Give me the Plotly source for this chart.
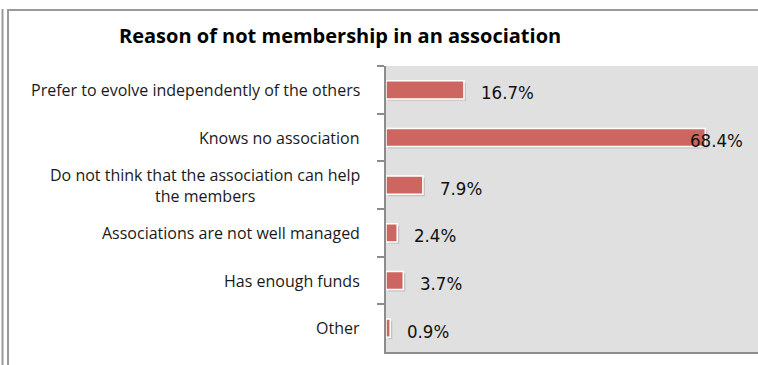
import plotly.graph_objects as go

# Survey results: reasons given for not joining an association
categories = [
    "Prefer to evolve independently of the others",
    "Knows no association",
    "Do not think that the association can help<br>the members",
    "Associations are not well managed",
    "Has enough funds",
    "Other",
]
shares = [16.7, 68.4, 7.9, 2.4, 3.7, 0.9]
title_text = "Reason of not membership in an association"

W, H = 758, 365
PLOT_L, PLOT_R, PLOT_T, PLOT_B = 386, 758, 66, 352
TEXT_FONT = "'Open Sans', sans-serif"
NUM_FONT = "'DejaVu Sans Condensed', Lato, sans-serif"
BAR_COLOR = "#cd6660"


def px_x(p):
    return (p - PLOT_L) / (PLOT_R - PLOT_L)


def px_y(p):
    return (PLOT_B - p) / (PLOT_B - PLOT_T)


fig = go.Figure()

# soft drop shadow behind each bar
fig.add_trace(go.Bar(
    y=categories, x=shares, base=0.45, orientation="h",
    width=0.38, offset=-0.15,
    marker=dict(color="rgba(0,0,0,0.13)", line=dict(width=0)),
    hoverinfo="skip", showlegend=False,
))
fig.add_trace(go.Bar(
    y=categories, x=shares, orientation="h",
    width=0.38, offset=-0.19,
    marker=dict(color=BAR_COLOR, line=dict(color="white", width=1.5)),
    showlegend=False,
))

annotations = []
for cat, v in zip(categories, shares):
    # category labels, right-aligned next to the axis, lines centered
    annotations.append(dict(
        x=px_x(362), xref="paper", y=cat, yref="y",
        text=cat, showarrow=False, xanchor="right", align="center",
        font=dict(family=TEXT_FONT, size=16, color="#1a1a1a"),
    ))
    # value labels
    inside = v > 60
    annotations.append(dict(
        x=v, xref="x", y=cat, yref="y",
        text=f"{v:.1f}%", showarrow=False, xanchor="left",
        xshift=-17 if inside else 15, yshift=-3,
        font=dict(family=NUM_FONT, size=18.5, color="#111111"),
    ))

annotations.append(dict(
    x=px_x(340), xref="paper", y=px_y(35), yref="paper",
    text=f"<b>{title_text}</b>", showarrow=False, xanchor="center", yanchor="middle",
    font=dict(family=TEXT_FONT, size=20, color="#000000"),
))

shapes = [
    # outer frame lines of the chart object
    dict(type="line", xref="paper", yref="paper", x0=px_x(2.5), x1=px_x(2.5),
         y0=px_y(9), y1=px_y(366), line=dict(color="#9a9a9a", width=2)),
    dict(type="line", xref="paper", yref="paper", x0=px_x(8), x1=px_x(8),
         y0=px_y(9.5), y1=px_y(366), line=dict(color="#9a9a9a", width=2)),
    dict(type="line", xref="paper", yref="paper", x0=px_x(7), x1=px_x(760),
         y0=px_y(10), y1=px_y(10), line=dict(color="#9a9a9a", width=2)),
]

fig.update_layout(
    width=W, height=H,
    margin=dict(l=PLOT_L, r=W - PLOT_R, t=PLOT_T, b=H - PLOT_B, pad=0),
    paper_bgcolor="white", plot_bgcolor="#e0e0e0",
    barmode="overlay", showlegend=False,
    annotations=annotations, shapes=shapes,
    font=dict(family=TEXT_FONT),
)
fig.update_xaxes(range=[0, 79.7], showgrid=False, zeroline=False,
                 showticklabels=False, ticks="", showline=True,
                 linecolor="#8c8c8c", linewidth=2)
fig.update_yaxes(autorange="reversed", showgrid=False, zeroline=False,
                 showticklabels=False, ticks="outside", ticklen=7,
                 tickcolor="#8c8c8c", tickwidth=1.5, tickson="boundaries",
                 showline=True, linecolor="#8c8c8c", linewidth=2)

page_style = (
    "var s=document.createElement('style');"
    "s.textContent='html,body{margin:0;padding:0;overflow:hidden}';"
    "document.head.appendChild(s);"
)

fig.write_html(
    "out.html",
    config={"displayModeBar": False},
    post_script=page_style,
)
